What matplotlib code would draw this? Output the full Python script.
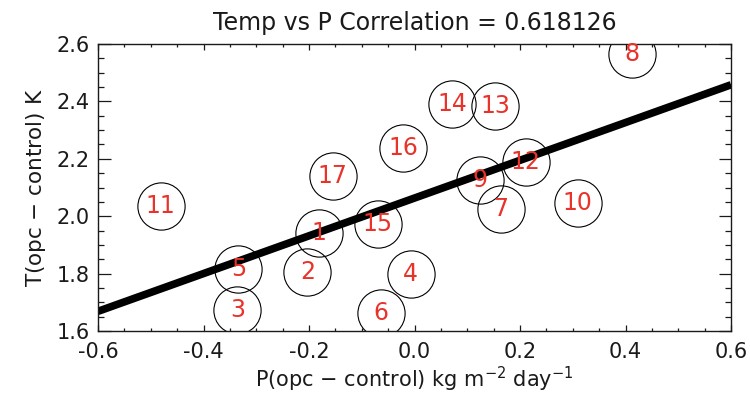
import numpy as np
from matplotlib import pyplot as plt
from matplotlib.ticker import MultipleLocator

# model number, precipitation change, temperature change
labels = ['1', '2', '3', '4', '5', '6', '7', '8', '9', '10',
          '11', '12', '13', '14', '15', '16', '17']
dp = [-0.181, -0.203, -0.336, -0.007, -0.334, -0.063, 0.164, 0.413, 0.124,
      0.309, -0.481, 0.211, 0.153, 0.071, -0.070, -0.021, -0.155]
dt = [1.940, 1.807, 1.673, 1.798, 1.815, 1.662, 2.025, 2.565, 2.126,
      2.045, 2.037, 2.190, 2.385, 2.391, 1.973, 2.237, 2.140]
corr_text = '0.618126'

red = '#e8322a'
ink = '#1a1a1a'

fig = plt.figure(figsize=(7.5, 4.05), dpi=100)
ax = fig.add_axes([0.1307, 0.1827, 0.844, 0.7086])

ax.plot(dp, dt, 'o', ms=34, mfc='none', mec='black', mew=0.8)
for lab, x, y in zip(labels, dp, dt):
    ax.text(x, y, lab, color=red, fontsize=17, ha='center', va='center')

# least squares line through the points
slope, icept = np.polyfit(dp, dt, 1)
xl = np.array([-0.6, 0.6])
ax.plot(xl, slope * xl + icept, color='black', lw=5.5, solid_capstyle='butt')

ax.set_xlim(-0.6, 0.6)
ax.set_ylim(1.6, 2.6)
ax.xaxis.set_major_locator(MultipleLocator(0.2))
ax.xaxis.set_minor_locator(MultipleLocator(0.05))
ax.yaxis.set_major_locator(MultipleLocator(0.2))
ax.yaxis.set_minor_locator(MultipleLocator(0.05))
ax.xaxis.set_major_formatter(plt.FormatStrFormatter('%.1f'))
ax.yaxis.set_major_formatter(plt.FormatStrFormatter('%.1f'))
ax.tick_params(which='both', direction='in', top=True, right=True,
               colors=ink, labelsize=15, width=0.9)
ax.tick_params(axis='y', which='major', length=9, pad=6)
ax.tick_params(axis='y', which='minor', length=4.5)
ax.tick_params(axis='x', which='major', length=4, pad=8)
ax.tick_params(axis='x', which='minor', length=2.5)
for s in ax.spines.values():
    s.set_linewidth(1.0)
    s.set_color(ink)

ax.set_title('Temp vs P Correlation = ' + corr_text, fontsize=17, color=ink, pad=10)
ax.set_xlabel('P(opc $-$ control) kg m$^{-2}$ day$^{-1}$', fontsize=15, color=ink, labelpad=2)
ax.set_ylabel('T(opc $-$ control) K', fontsize=15.5, color=ink, labelpad=6)

plt.savefig('out.png', dpi=100)
